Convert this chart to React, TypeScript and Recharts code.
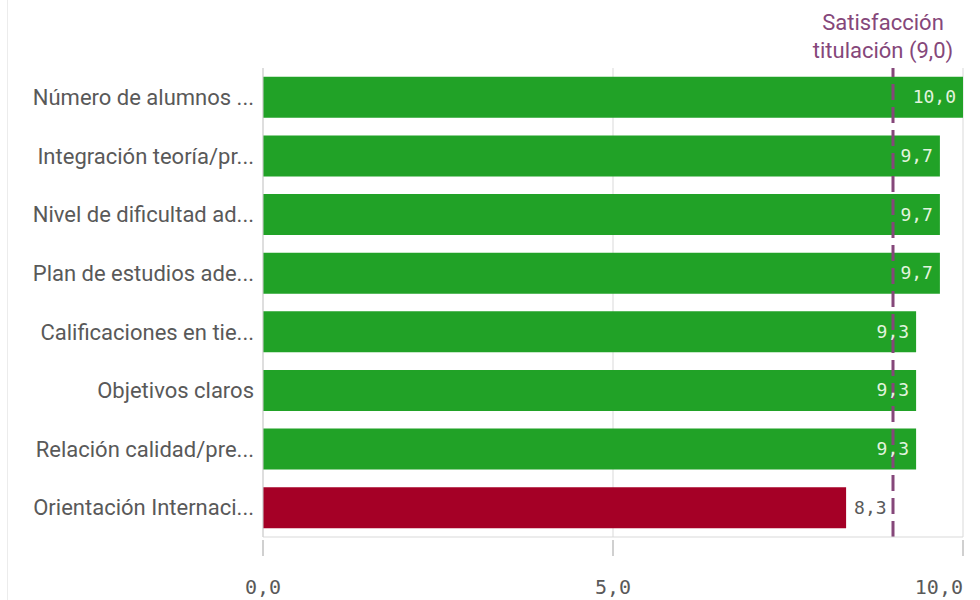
import React from 'react';
import { BarChart, Bar, XAxis, YAxis, CartesianGrid, ReferenceLine, Cell, LabelList } from 'recharts';

const categories = [
  'Número de alumnos ...',
  'Integración teoría/pr...',
  'Nivel de dificultad ad...',
  'Plan de estudios ade...',
  'Calificaciones en tie...',
  'Objetivos claros',
  'Relación calidad/pre...',
  'Orientación Internaci...',
];
const scores = [10.0, 9.67, 9.67, 9.67, 9.33, 9.33, 9.33, 8.33];
const xTicks = [0, 5, 10];
const titulacion = 9.0;
const titulacionLabel = ['Satisfacción', 'titulación (9,0)'];

const GREEN = '#21a227';
const RED = '#a50026';
const PURPLE = '#85477a';
const MONO = '"DejaVu Sans Mono", monospace';
const SANS = 'Roboto, "Noto Sans", sans-serif';

const data = categories.map((name, i) => ({ name, score: scores[i] }));

const fmt = (v: number) => v.toFixed(1).replace('.', ',');

const XTick = (props: any) => {
  const { x, y, payload, index, visibleTicksCount } = props;
  const last = index === visibleTicksCount - 1;
  return (
    <g>
      <line x1={x} x2={x} y1={y + 3} y2={y + 19} stroke="#d0d0d0" strokeWidth={2} />
      <text
        x={x}
        y={y + 57}
        textAnchor={last ? 'end' : 'middle'}
        fill="#595959"
        fontSize={20}
        fontFamily={MONO}
      >
        {fmt(payload.value)}
      </text>
    </g>
  );
};

const BarValue = (props: any) => {
  const { x, y, width, height, value } = props;
  const inside = value >= titulacion;
  return (
    <text
      x={inside ? x + width - 7 : x + width + 8}
      y={y + height / 2 + 6}
      textAnchor={inside ? 'end' : 'start'}
      fill={inside ? '#e2f4de' : '#595959'}
      fontSize={18}
      fontFamily={MONO}
    >
      {fmt(value)}
    </text>
  );
};

const RefLabel = (props: any) => {
  const { viewBox } = props;
  const cx = viewBox.x - 10;
  return (
    <g>
      <text x={cx} y={viewBox.y - 38} textAnchor="middle" fill={PURPLE} fontSize={22} fontFamily={SANS}>
        {titulacionLabel[0]}
      </text>
      <text x={cx} y={viewBox.y - 10} textAnchor="middle" fill={PURPLE} fontSize={22} fontFamily={SANS}>
        {titulacionLabel[1]}
      </text>
    </g>
  );
};

export default function App() {
  return (
    <div style={{ position: 'absolute', left: 0, top: 0, width: 980, height: 600, background: '#fff' }}>
      <div style={{ position: 'absolute', left: 7, top: 0, width: 1, height: 600, background: '#ececec' }} />
      <BarChart
        width={980}
        height={600}
        data={data}
        layout="vertical"
        margin={{ top: 68, right: 17, bottom: 0, left: 0 }}
        barCategoryGap="15%"
      >
        <CartesianGrid horizontal={false} stroke="#d9d9d9" />
        <XAxis
          type="number"
          domain={[0, 10]}
          ticks={xTicks}
          height={63}
          axisLine={{ stroke: '#d9d9d9' }}
          tickLine={false}
          tickSize={0}
          tickMargin={0}
          tick={<XTick />}
          interval={0}
        />
        <YAxis
          type="category"
          dataKey="name"
          width={263}
          axisLine={{ stroke: '#d0d0d0' }}
          tickLine={false}
          tickSize={0}
          tickMargin={9}
          tick={{ fill: '#595959', fontSize: 22, fontFamily: SANS }}
          interval={0}
        />
        <ReferenceLine
          x={titulacion}
          stroke={PURPLE}
          strokeWidth={3}
          strokeDasharray="16 7"
          label={<RefLabel />}
        />
        <Bar dataKey="score" isAnimationActive={false}>
          {data.map((d, i) => (
            <Cell key={`c-${i}`} fill={d.score >= titulacion ? GREEN : RED} />
          ))}
          <LabelList dataKey="score" content={<BarValue />} />
        </Bar>
      </BarChart>
    </div>
  );
}
